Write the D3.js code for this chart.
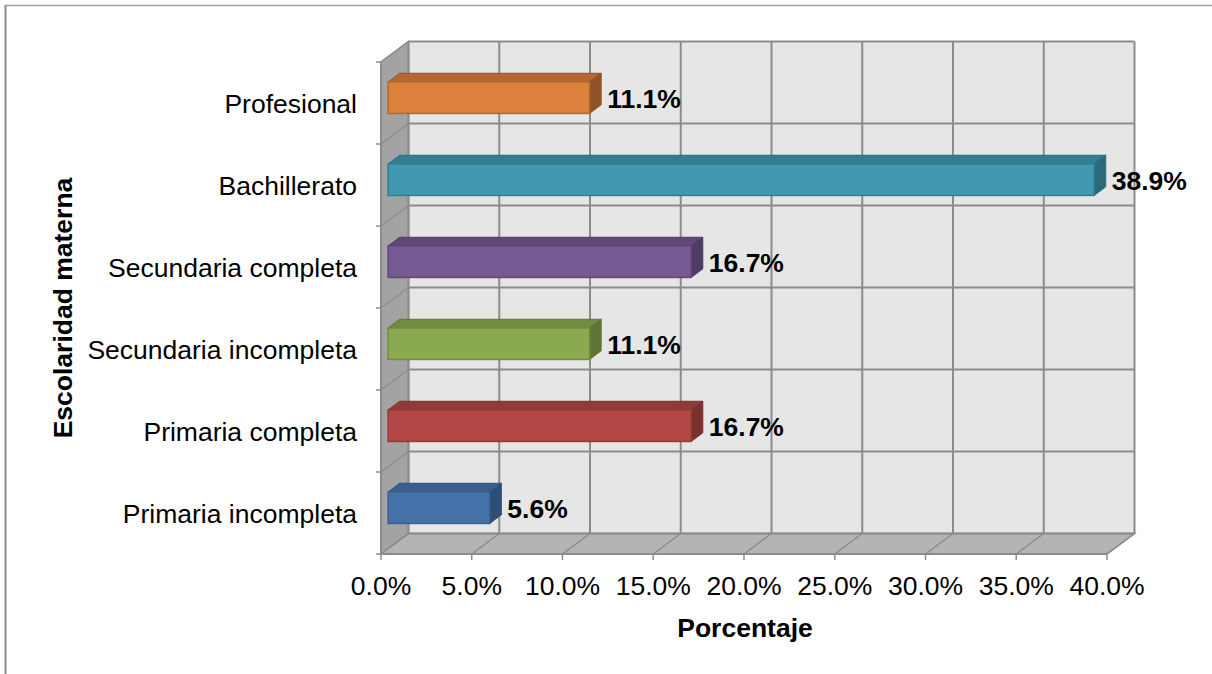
<!DOCTYPE html>
<html>
<head>
<meta charset="utf-8">
<script src="https://cdn.jsdelivr.net/npm/d3@7"></script>
<style>
html,body{margin:0;padding:0;background:#fff;}
svg{display:block;}
text{font-family:"Liberation Sans",Arial,sans-serif;}
</style>
</head>
<body>
<svg id="chart" width="1212" height="674"></svg>
<script>
const categories = ["Primaria incompleta","Primaria completa","Secundaria incompleta","Secundaria completa","Bachillerato","Profesional"];
const values = [5.6, 16.7, 11.1, 16.7, 38.9, 11.1];
const frontColors = ["#4672AA","#B24745","#8BA94F","#765A93","#4199B0","#DC823D"];
const topColors   = ["#3A5E8E","#923A38","#718B40","#5F4878","#337D90","#B26830"];
const sideColors  = ["#2F4D76","#7B302E","#5F7536","#4F3C65","#2B6A7A","#8F5327"];
const tickValues = [0,5,10,15,20,25,30,35,40];

const svg = d3.select("#chart");
const x = d3.scaleLinear().domain([0,40]).range([381,1107]);
const y = d3.scaleBand().domain(categories).range([554,62]);
const DX = 27.5, DY = -20.5;      // full depth offset
const f1 = 0.26, f2 = 0.68;       // bar depth span
const bw = y.bandwidth();
const barH = bw * 0.385;
const off = f => [DX*f, DY*f];
const grid = "#8C8C8C";
const FS = 26.5;

// outer border
svg.append("line").attr("x1",5).attr("x2",1212).attr("y1",5.5).attr("y2",5.5).attr("stroke","#A0A0A0").attr("stroke-width",1.5);
svg.append("line").attr("x1",5.5).attr("x2",5.5).attr("y1",5).attr("y2",674).attr("stroke","#8C8C8C").attr("stroke-width",2);

const x0 = x(0), x1 = x(40), yTop = y.range()[1], yBot = y.range()[0];
// back wall
svg.append("rect").attr("x",x0+DX).attr("y",yTop+DY).attr("width",x1-x0).attr("height",yBot-yTop).attr("fill","#E6E6E6");
// side wall
svg.append("polygon").attr("points",[[x0,yTop],[x0+DX,yTop+DY],[x0+DX,yBot+DY],[x0,yBot]].join(" ")).attr("fill","#A3A3A3").attr("stroke",grid).attr("stroke-width",1.5);
// floor
svg.append("polygon").attr("points",[[x0,yBot],[x0+DX,yBot+DY],[x1+DX,yBot+DY],[x1,yBot]].join(" ")).attr("fill","#B4B4B4").attr("stroke",grid).attr("stroke-width",1.5);

// horizontal gridlines on back wall + side wall diagonals
const bounds = categories.map(c => y(c)).concat([yBot]);
bounds.forEach(b => {
  svg.append("line").attr("x1",x0+DX).attr("x2",x1+DX).attr("y1",b+DY).attr("y2",b+DY).attr("stroke",grid).attr("stroke-width",2);
  svg.append("line").attr("x1",x0).attr("x2",x0+DX).attr("y1",b).attr("y2",b+DY).attr("stroke","#8F8F8F").attr("stroke-width",1.5);
  svg.append("line").attr("x1",x0-5).attr("x2",x0).attr("y1",b).attr("y2",b).attr("stroke",grid).attr("stroke-width",1.5);
});
// vertical gridlines on back wall + floor diagonals + ticks
tickValues.forEach(t => {
  svg.append("line").attr("x1",x(t)+DX).attr("x2",x(t)+DX).attr("y1",yTop+DY).attr("y2",yBot+DY).attr("stroke",grid).attr("stroke-width",2);
  svg.append("line").attr("x1",x(t)).attr("x2",x(t)+DX).attr("y1",yBot).attr("y2",yBot+DY).attr("stroke",grid).attr("stroke-width",1.5);
  svg.append("line").attr("x1",x(t)).attr("x2",x(t)).attr("y1",yBot).attr("y2",yBot+6).attr("stroke",grid).attr("stroke-width",1.5);
});
// front axis lines
svg.append("line").attr("x1",x0).attr("x2",x1).attr("y1",yBot).attr("y2",yBot).attr("stroke",grid).attr("stroke-width",2);
svg.append("line").attr("x1",x0).attr("x2",x0).attr("y1",yTop).attr("y2",yBot).attr("stroke",grid).attr("stroke-width",2);

// bars
categories.forEach((c,i) => {
  const v = values[i];
  const cy = y(c) + bw/2;
  const [ax, ay] = off(f1), [bx, by] = off(f2);
  const xl = x(0), xr = x(v);
  const t = cy - barH/2, btm = cy + barH/2;
  const g = svg.append("g");
  g.append("polygon").attr("points",[[xl+ax,t+ay],[xr+ax,t+ay],[xr+bx,t+by],[xl+bx,t+by]].join(" "))
    .attr("fill",topColors[i]).attr("stroke",sideColors[i]).attr("stroke-width",1).attr("stroke-linejoin","round");
  g.append("polygon").attr("points",[[xr+ax,t+ay],[xr+bx,t+by],[xr+bx,btm+by],[xr+ax,btm+ay]].join(" "))
    .attr("fill",sideColors[i]).attr("stroke",sideColors[i]).attr("stroke-width",1);
  g.append("rect").attr("x",xl+ax).attr("y",t+ay).attr("width",xr-xl).attr("height",barH)
    .attr("fill",frontColors[i]).attr("stroke",topColors[i]).attr("stroke-width",1.5);
  svg.append("text").attr("x",xr+bx+6).attr("y",cy + ay + 10.5)
    .attr("font-size",FS).attr("font-weight","bold").attr("fill","#000")
    .text(d3.format(".1f")(v)+"%");
});

// category labels
svg.selectAll(".cat").data(categories).enter().append("text")
  .attr("x",357).attr("y",d => y(d)+bw/2+9.5)
  .attr("text-anchor","end").attr("font-size",FS).attr("fill","#000").text(d=>d);

// tick labels
svg.selectAll(".tick").data(tickValues).enter().append("text")
  .attr("x",d=>x(d)).attr("y",595).attr("text-anchor","middle").attr("font-size",FS).attr("fill","#000")
  .text(d=>d3.format(".1%")(d/100));

// axis titles
svg.append("text").attr("x",745).attr("y",637).attr("text-anchor","middle").attr("font-size",FS).attr("font-weight","bold").text("Porcentaje");
svg.append("text").attr("transform","translate(72,308) rotate(-90)").attr("text-anchor","middle").attr("font-size",FS).attr("font-weight","bold").text("Escolaridad materna");
</script>
</body>
</html>
